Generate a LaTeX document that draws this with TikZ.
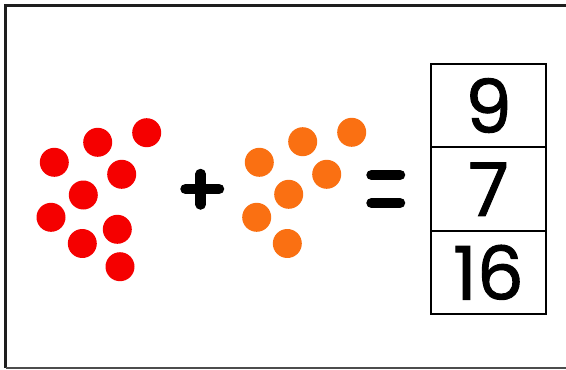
\documentclass[tikz,border=0pt]{standalone}
\usepackage{fontspec}
\newfontfamily\digitfont[FakeBold=1.3]{Poppins}
\definecolor{dotred}{RGB}{245,0,0}
\definecolor{dotorange}{RGB}{250,112,18}
\definecolor{framegray}{RGB}{30,30,30}
\tikzset{
  dot/.style={circle, inner sep=0pt, minimum size=29pt},
  reddot/.style={dot, fill=dotred},
  orangedot/.style={dot, fill=dotorange},
  bar/.style={line width=10.5pt, line cap=round, black},
  cell/.style={draw=black, line width=1.6pt, minimum width=115pt, minimum height=83.3pt, inner sep=0pt, font=\digitfont\fontsize{74}{74}\selectfont}
}
\begin{document}
\begin{tikzpicture}[x=1pt,y=-1pt]
\useasboundingbox (0,0) rectangle (566,370);
\fill[white] (0,0) rectangle (566,370);
% frame
\draw[line width=3.5pt, framegray] (580,5.5) -- (5.5,5.5) -- (5.5,368);
\draw[line width=2pt, black!70] (5.5,368) -- (580,368);
% red dots
\node[reddot] (r1) at (146.7,132.7) {};
\node[reddot] (r2) at (97.7,142.3) {};
\node[reddot] (r3) at (54.3,162.3) {};
\node[reddot] (r4) at (121.7,174.3) {};
\node[reddot] (r5) at (83.3,195) {};
\node[reddot] (r6) at (51,217.3) {};
\node[reddot] (r7) at (117.3,229.3) {};
\node[reddot] (r9) at (120,266.7) {};
% orange dots
\node[orangedot] (o1) at (351.7,132.3) {};
\node[orangedot] (o2) at (302.7,141.7) {};
\node[orangedot] (o3) at (259.3,162.3) {};
\node[orangedot] (o4) at (326.7,174.3) {};
\node[orangedot] (o5) at (288.7,194.3) {};
\node[orangedot] (o6) at (256.7,217.3) {};
\begin{scope}
\clip (0,0) rectangle (566,257.5);
\node[reddot] (r8) at (82.3,243.5) {};
\node[orangedot] (o7) at (287.3,243.5) {};
\end{scope}
% plus
\coordinate (pl) at (185.5,189);
\coordinate (pr) at (219,189);
\coordinate (pt) at (200.7,174);
\coordinate (pb) at (200.7,204.5);
\draw[bar] (pl) -- (pr);
\draw[bar] (pt) -- (pb);
% equals
\coordinate (e1l) at (371.5,175);
\coordinate (e1r) at (400,175);
\coordinate (e2l) at (371.5,203);
\coordinate (e2r) at (400,203);
\draw[bar] (e1l) -- (e1r);
\draw[bar] (e2l) -- (e2r);
% boxes
\node[cell] (c1) at (488.5,105.5) {9};
\node[cell] (c2) at (488.5,189.2) {7};
\node[cell] (c3) at (488.5,272.3) {16};
\end{tikzpicture}
\end{document}
